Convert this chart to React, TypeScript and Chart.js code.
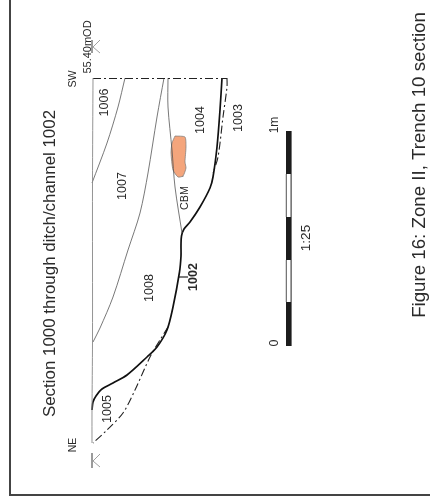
import React, { useEffect, useRef } from "react";
import { Chart, registerables } from "chart.js";

Chart.register(...registerables);

type P = [number, number];

const frameLine: P[] = [[10, 0], [10, 495], [430, 495]];
const ground: P[] = [[93, 78], [92.5, 183], [92.5, 341], [92, 410], [92, 443]];
const topEdge: P[] = [[93, 78.5], [227, 78.5]];
const bound1006: P[] = [[125, 78], [118, 107], [107, 143], [92, 183]];
const bound1007: P[] = [[164, 78], [157, 117], [148, 173], [140, 213], [128, 250], [113, 297], [100, 328], [93, 342]];
const bound1004: P[] = [[168, 78], [168, 107], [172, 150], [175, 187], [182, 233]];
const cut1002: P[] = [[222, 78], [220, 110], [217, 147], [213, 177], [210, 188], [200, 207], [190, 222], [184, 229], [181.5, 236], [181, 245], [181, 256], [179.5, 272], [173, 307], [167, 330], [157, 347], [147, 357], [127, 375], [113, 383], [102, 389], [96, 396], [93, 402], [92, 410]];
const base1003: P[] = [[227, 78], [227, 87], [223, 117], [218, 157], [213, 173]];
const base1005: P[] = [[168, 327], [160, 340], [150, 357], [135, 390], [123, 413], [107, 430], [93, 443]];
const cbm: P[] = [[175, 136], [185, 137], [186, 147], [185, 162], [186, 168], [183, 176], [178, 177], [173, 170], [171, 153], [172, 143], [175, 136]];
const cbmLeader: P[] = [[178, 163], [183, 177]];
const tick1002: P[] = [[179, 277], [188, 277]];
const datumTop: P[][] = [[[100, 40], [93, 47], [100, 53]], [[92, 40], [92, 53]]];
const datumBottom: P[][] = [[[100, 454], [93, 461], [100, 467]], [[92, 453], [92, 468]]];
const scaleBlack: P[][] = [[[288.8, 131], [288.8, 174]], [[288.8, 217], [288.8, 260]], [[288.8, 302], [288.8, 346]]];
const scaleOutline: P[][] = [[[286.4, 174], [286.4, 217]], [[291.2, 174], [291.2, 217]], [[286.4, 260], [286.4, 302]], [[291.2, 260], [291.2, 302]]];

const texts: { t: string; x: number; y: number; size: number; bold?: boolean }[] = [
  { t: "Section 1000 through ditch/channel 1002", x: 49, y: 263.5, size: 16.9 },
  { t: "Figure 16: Zone II, Trench 10 section", x: 418.3, y: 165, size: 18.7 },
  { t: "55.40mOD", x: 87, y: 47, size: 11 },
  { t: "SW", x: 72, y: 79, size: 10.7 },
  { t: "NE", x: 72, y: 445, size: 10.5 },
  { t: "1006", x: 104, y: 102.5, size: 12.5 },
  { t: "1007", x: 122, y: 186, size: 12.5 },
  { t: "1004", x: 200, y: 120, size: 12.5 },
  { t: "1003", x: 238, y: 118, size: 12.5 },
  { t: "1008", x: 149, y: 288, size: 12.5 },
  { t: "1005", x: 107, y: 409, size: 12.5 },
  { t: "1002", x: 193, y: 277, size: 12.5, bold: true },
  { t: "CBM", x: 184, y: 198, size: 10.8 },
  { t: "0", x: 274, y: 343, size: 12.5 },
  { t: "1m", x: 274, y: 125, size: 12 },
  { t: "1:25", x: 305, y: 238, size: 13.5 },
];

const line = (pts: P[], color: string, width: number, extra: object = {}) => ({
  type: "line" as const,
  data: pts.map(([x, y]) => ({ x, y })),
  pointRadius: 0,
  borderColor: color,
  borderWidth: width,
  tension: 0.3,
  fill: false,
  ...extra,
});

const DASH = [8, 3, 2, 3];
const textPlugin = {
  id: "rotatedText",
  afterDatasetsDraw(chart: any) {
    const { ctx, scales } = chart;
    texts.forEach(({ t, x, y, size, bold }) => {
      ctx.save();
      ctx.translate(scales.x.getPixelForValue(x) + size * 0.358, scales.y.getPixelForValue(y));
      ctx.rotate(-Math.PI / 2);
      ctx.font = `${bold ? "bold " : ""}${size}px "Liberation Sans", Arial, sans-serif`;
      ctx.fillStyle = "#2a2a2a";
      ctx.textAlign = "center";
      ctx.textBaseline = "alphabetic";
      ctx.fillText(t, 0, 0);
      ctx.restore();
    });
  },
};

export default function App() {
  const ref = useRef<HTMLCanvasElement>(null);
  useEffect(() => {
    const straight = { tension: 0 };
    const chart = new Chart(ref.current!, {
      type: "line",
      data: {
        datasets: [
          line(frameLine, "#444", 2, straight),
          line(ground, "#888", 0.9),
          line(topEdge, "#222", 1, { ...straight, borderDash: DASH }),
          line(bound1006, "#555", 0.8),
          line(bound1007, "#555", 0.8),
          line(bound1004, "#555", 0.8),
          line(cbm, "#777", 0.7, { fill: "shape", backgroundColor: "#f4a57c", tension: 0.2 }),
          line(cbmLeader, "#444", 0.7, straight),
          line(cut1002, "#111", 1.7),
          line(base1003, "#222", 1.1, { borderDash: DASH }),
          line(base1005, "#222", 1.1, { borderDash: DASH }),
          line(tick1002, "#111", 1.1, straight),
          ...datumTop.map((p) => line(p, "#777", 0.7, straight)),
          ...datumBottom.map((p) => line(p, "#777", 0.7, straight)),
          ...scaleBlack.map((p) => line(p, "#1c1c1c", 5.6, straight)),
          ...scaleOutline.map((p) => line(p, "#777", 1, straight)),
        ] as any,
      },
      options: {
        animation: false,
        responsive: false,
        layout: { padding: 0 },
        plugins: { legend: { display: false }, tooltip: { enabled: false } },
        scales: {
          x: { type: "linear", min: 0, max: 430, display: false },
          y: { type: "linear", min: 0, max: 504, reverse: true, display: false },
        },
      },
      plugins: [textPlugin],
    });
    return () => chart.destroy();
  }, []);
  return (
    <canvas
      ref={ref}
      width={430}
      height={504}
      style={{ position: "absolute", left: 0, top: 0, width: 430, height: 504, display: "block", background: "#fff" }}
    />
  );
}
